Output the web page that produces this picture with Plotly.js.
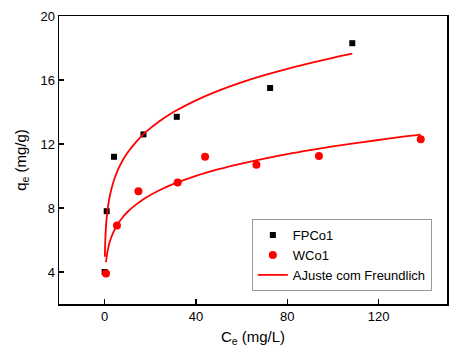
<!DOCTYPE html>
<html>
<head>
<meta charset="utf-8">
<script src="https://cdn.plot.ly/plotly-3.0.1.min.js"></script>
<style>html,body{margin:0;padding:0;background:#fff;}#chart{width:461px;height:363px;}</style>
</head>
<body>
<div id="chart"></div>
<script>
// Experimental points
const fpcoX = [0, 0.9, 4.1, 17, 31.6, 72.5, 108.5];
const fpcoY = [4.0, 7.8, 11.2, 12.6, 13.7, 15.5, 18.3];
const wcoX = [0.6, 5.4, 14.8, 32, 44, 66.5, 93.9, 138.5];
const wcoY = [3.9, 6.9, 9.05, 9.6, 11.2, 10.7, 11.25, 12.3];

// Freundlich fit curves
const fitFpX = [0.1, 0.2, 0.4, 0.7, 1, 1.5, 2, 3, 4, 6, 8, 10, 14, 18, 24, 30, 40, 50, 60, 70, 80, 90, 100, 108.5];
const fitFpY = [4.96, 5.63, 6.38, 7.07, 7.54, 8.12, 8.55, 9.20, 9.70, 10.44, 11.00, 11.45, 12.17, 12.74, 13.42, 13.98, 14.73, 15.34, 15.85, 16.30, 16.70, 17.06, 17.39, 17.65];
const fitWX = [0.6, 1, 1.5, 2, 3, 4, 6, 8, 10, 14, 18, 24, 30, 40, 50, 60, 70, 80, 90, 100, 110, 120, 130, 138.5];
const fitWY = [4.61, 5.07, 5.46, 5.76, 6.20, 6.54, 7.05, 7.44, 7.75, 8.24, 8.64, 9.11, 9.49, 10.01, 10.43, 10.78, 11.09, 11.37, 11.62, 11.85, 12.06, 12.25, 12.44, 12.58];

const xTicks = [0, 40, 80, 120];
const yTicks = [4, 8, 12, 16, 20];
const seriesNames = ["FPCo1", "WCo1", "AJuste com Freundlich"];

const FONT = "Liberation Sans, Arial, sans-serif";

const traces = [
  {x: fpcoX, y: fpcoY, mode: "markers", type: "scatter", name: seriesNames[0],
   marker: {symbol: "square", size: 6, color: "#000"}},
  {x: wcoX, y: wcoY, mode: "markers", type: "scatter", name: seriesNames[1],
   marker: {symbol: "circle", size: 8, color: "#ff0000"}},
  {x: fitFpX, y: fitFpY, mode: "lines", type: "scatter", name: seriesNames[2],
   line: {color: "#ff0000", width: 1.8, shape: "spline"}},
  {x: fitWX, y: fitWY, mode: "lines", type: "scatter", name: seriesNames[2], showlegend: false,
   line: {color: "#ff0000", width: 1.8, shape: "spline"}}
];

const layout = {
  width: 461, height: 363,
  margin: {l: 59, r: 14, t: 16, b: 59, pad: 0},
  paper_bgcolor: "#fff", plot_bgcolor: "#fff",
  font: {family: FONT, size: 13, color: "#000"},
  showlegend: true,
  legend: {
    x: 0.497, y: 0.045, xanchor: "left", yanchor: "bottom",
    bgcolor: "#fff", bordercolor: "#999", borderwidth: 1,
    font: {family: FONT, size: 13, color: "#000"},
    tracegroupgap: 0
  },
  xaxis: {
    range: [-20, 150], tickvals: xTicks, ticktext: xTicks.map(String),
    ticks: "inside", ticklen: 5, tickwidth: 1.3, tickcolor: "#000",
    showline: true, linecolor: "#000", linewidth: 1.5, mirror: true,
    showgrid: false, zeroline: false,
    tickfont: {family: FONT, size: 13},
    title: {text: "C<sub>e</sub> (mg/L)", font: {family: FONT, size: 15}, standoff: 8}
  },
  yaxis: {
    range: [2, 20], tickvals: yTicks, ticktext: yTicks.map(String),
    ticks: "inside", ticklen: 5, tickwidth: 1.3, tickcolor: "#000",
    showline: true, linecolor: "#000", linewidth: 1.5, mirror: true,
    showgrid: false, zeroline: false,
    tickfont: {family: FONT, size: 13},
    title: {text: "q<sub>e</sub> (mg/g)", font: {family: FONT, size: 15}, standoff: 10}
  }
};

Plotly.newPlot("chart", traces, layout, {displayModeBar: false, staticPlot: true});
</script>
</body>
</html>
